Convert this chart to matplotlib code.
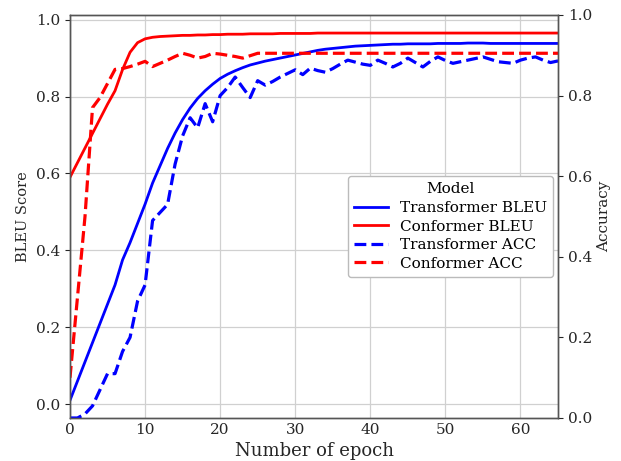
import numpy as np
import matplotlib
matplotlib.use("Agg")
import matplotlib.pyplot as plt

# =============================================
# DATA (one value per epoch)
# =============================================

epochs = list(range(0, 66))

transformer_bleu = [
    0.01, 0.06, 0.11, 0.16, 0.21, 0.26, 0.31, 0.375, 0.42, 0.47,
    0.52, 0.575, 0.62, 0.665, 0.705, 0.74, 0.77, 0.795, 0.815, 0.832,
    0.847, 0.858, 0.867, 0.875, 0.882, 0.887, 0.892, 0.896, 0.900, 0.904,
    0.908, 0.912, 0.916, 0.920, 0.923, 0.925, 0.927, 0.929, 0.931, 0.932,
    0.933, 0.934, 0.935, 0.936, 0.936, 0.937, 0.937, 0.937, 0.937, 0.938,
    0.938, 0.938, 0.938, 0.939, 0.939, 0.939, 0.938, 0.938, 0.938, 0.938,
    0.938, 0.938, 0.938, 0.938, 0.938, 0.938,
]

conformer_bleu = [
    0.59, 0.628, 0.666, 0.704, 0.742, 0.78, 0.815, 0.87, 0.915, 0.94,
    0.95, 0.954, 0.956, 0.957, 0.958, 0.959, 0.959, 0.960, 0.960, 0.961,
    0.961, 0.962, 0.962, 0.962, 0.963, 0.963, 0.963, 0.963, 0.964, 0.964,
    0.964, 0.964, 0.964, 0.965, 0.965, 0.965, 0.965, 0.965, 0.965, 0.965,
    0.965, 0.965, 0.965, 0.965, 0.965, 0.965, 0.965, 0.965, 0.965, 0.965,
    0.965, 0.965, 0.965, 0.965, 0.965, 0.965, 0.965, 0.965, 0.965, 0.965,
    0.965, 0.965, 0.965, 0.965, 0.965, 0.965,
]

transformer_acc = [
    0.0, 0.0, 0.01, 0.03, 0.07, 0.11, 0.11, 0.165, 0.20, 0.29,
    0.33, 0.49, 0.51, 0.53, 0.63, 0.70, 0.745, 0.72, 0.78, 0.735,
    0.80, 0.82, 0.846, 0.82, 0.795, 0.837, 0.826, 0.835, 0.846, 0.855,
    0.864, 0.852, 0.868, 0.862, 0.858, 0.867, 0.878, 0.888, 0.883, 0.878,
    0.875, 0.888, 0.880, 0.871, 0.880, 0.893, 0.882, 0.871, 0.885, 0.896,
    0.887, 0.880, 0.884, 0.888, 0.892, 0.896, 0.890, 0.884, 0.882, 0.880,
    0.888, 0.893, 0.896, 0.888, 0.882, 0.886,
]

conformer_acc = [
    0.10, 0.30, 0.50, 0.77, 0.795, 0.83, 0.865, 0.867, 0.872, 0.878,
    0.885, 0.872, 0.880, 0.888, 0.897, 0.905, 0.900, 0.893, 0.897, 0.905,
    0.903, 0.900, 0.897, 0.893, 0.899, 0.905, 0.905, 0.905, 0.905, 0.905,
    0.905, 0.905, 0.905, 0.905, 0.905, 0.905, 0.905, 0.905, 0.905, 0.905,
    0.905, 0.905, 0.905, 0.905, 0.905, 0.905, 0.905, 0.905, 0.905, 0.905,
    0.905, 0.905, 0.905, 0.905, 0.905, 0.905, 0.905, 0.905, 0.905, 0.905,
    0.905, 0.905, 0.905, 0.905, 0.905, 0.905,
]

# =============================================
# PLOT
# =============================================

plt.rcParams['font.family'] = ['DejaVu Serif']
text_color = '#262626'
spine_color = '#555555'

fig = plt.figure(figsize=(6.21, 4.61), dpi=100)
ax = fig.add_axes([0.1127, 0.0933, 0.7859, 0.8742])
ax2 = ax.twinx()

# BLEU on the left axis
l1, = ax.plot(epochs, transformer_bleu, color='blue', linewidth=2,
              label='Transformer BLEU')
l2, = ax.plot(epochs, conformer_bleu, color='red', linewidth=2,
              label='Conformer BLEU')

# accuracy on the right axis
l3, = ax2.plot(epochs, transformer_acc, color='blue', linewidth=2.3,
               linestyle='--', label='Transformer ACC')
l4, = ax2.plot(epochs, conformer_acc, color='red', linewidth=2.3,
               linestyle='--', label='Conformer ACC')

ax.set_xlim(0, 65)
ax.set_ylim(-0.036, 1.012)
ax2.set_ylim(0, 1.0)
ax.set_yticks(np.arange(0, 1.01, 0.2))
ax2.set_yticks(np.arange(0, 1.01, 0.2))

ax.grid(True, color='#d0d0d0', linewidth=0.9)
ax.set_axisbelow(True)

ax.set_xlabel('Number of epoch', fontsize=13, color=text_color)
ax.set_ylabel('BLEU Score', fontsize=10.5, color=text_color)
ax2.set_ylabel('Accuracy', fontsize=11, color=text_color)

for a in (ax, ax2):
    a.tick_params(labelsize=11, colors=text_color)
    for s in a.spines.values():
        s.set_color(spine_color)
        s.set_linewidth(1.0)
ax.tick_params(axis='x', length=0)

leg = ax2.legend(handles=[l1, l2, l3, l4], title='Model', loc='center right',
                 bbox_to_anchor=(0.99, 0.475), borderaxespad=0.0,
                 fontsize=11, title_fontsize=11, framealpha=1.0,
                 edgecolor='#bbbbbb', handlelength=2.2, labelspacing=0.3)

fig.savefig('out.png', dpi=100)
